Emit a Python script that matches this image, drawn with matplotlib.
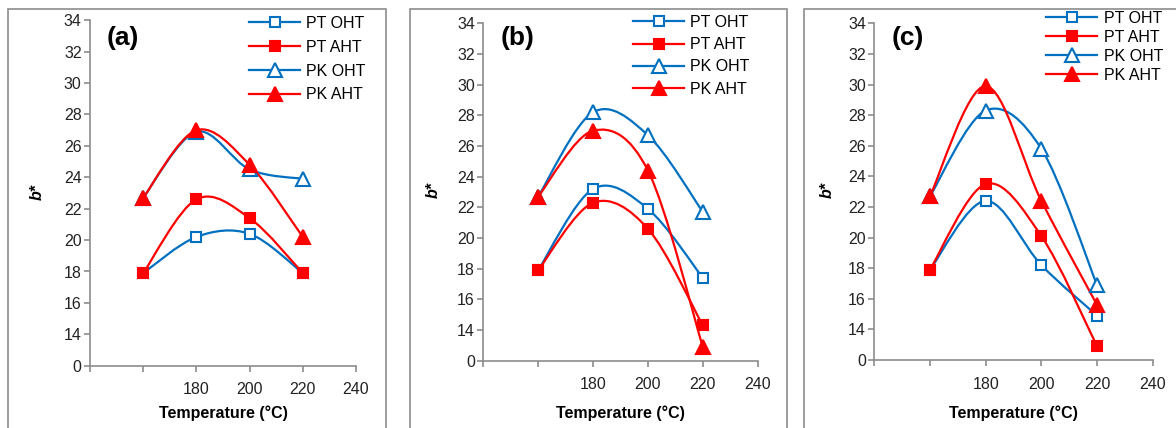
import numpy as np
import matplotlib
matplotlib.use("Agg")
import matplotlib.pyplot as plt
from matplotlib.path import Path
from matplotlib.patches import PathPatch, Rectangle
from matplotlib.lines import Line2D

plt.rcParams['font.family'] = ['Liberation Sans', 'DejaVu Sans']

# datos
temperatura = [160, 180, 200, 220]
series = ['PT OHT', 'PT AHT', 'PK OHT', 'PK AHT']

panel_a = {
    'PT OHT': [17.9, 20.2, 20.4, 17.9],
    'PT AHT': [17.9, 22.6, 21.4, 17.9],
    'PK OHT': [22.7, 26.9, 24.5, 23.9],
    'PK AHT': [22.7, 27.0, 24.8, 20.2],
}
panel_b = {
    'PT OHT': [17.9, 23.2, 21.9, 17.4],
    'PT AHT': [17.9, 22.3, 20.6, 14.3],
    'PK OHT': [22.7, 28.2, 26.7, 21.7],
    'PK AHT': [22.7, 27.0, 24.4, 12.9],
}
panel_c = {
    'PT OHT': [17.9, 22.4, 18.2, 14.9],
    'PT AHT': [17.9, 23.5, 20.1, 12.9],
    'PK OHT': [22.7, 28.3, 25.8, 16.9],
    'PK AHT': [22.7, 29.9, 22.4, 15.6],
}

y_ticks = [12, 14, 16, 18, 20, 22, 24, 26, 28, 30, 32, 34]
y_labels = ['0', '14', '16', '18', '20', '22', '24', '26', '28', '30', '32', '34']
x_ticks = [140, 160, 180, 200, 220, 240]
x_labels = ['', '', '180', '200', '220', '240']

AZUL = '#0070C0'
ROJO = '#FF0000'
estilos = {
    'PT OHT': dict(color=AZUL, marker='s', mfc='white', ms=7.5),
    'PT AHT': dict(color=ROJO, marker='s', mfc=ROJO, ms=7.5),
    'PK OHT': dict(color=AZUL, marker='^', mfc='white', ms=10),
    'PK AHT': dict(color=ROJO, marker='^', mfc=ROJO, ms=10),
}

W, H = 1176, 428
fig = plt.figure(figsize=(W / 100, H / 100), dpi=100)


def caja(izq, der, arriba, abajo):
    # pixeles -> fraccion de figura
    return [izq / W, 1 - abajo / H, (der - izq) / W, (abajo - arriba) / H]


def curva_suave(x, y):
    # linea suavizada tipo Excel (Bezier / Catmull-Rom)
    p = np.column_stack([x, y]).astype(float)
    n = len(p)
    verts = [p[0]]
    codes = [Path.MOVETO]
    for i in range(n - 1):
        p0 = p[i - 1] if i > 0 else p[i]
        p3 = p[i + 2] if i + 2 < n else p[i + 1]
        c1 = p[i] + (p[i + 1] - p0) / 6
        c2 = p[i + 1] - (p3 - p[i]) / 6
        verts += [c1, c2, p[i + 1]]
        codes += [Path.CURVE4] * 3
    return Path(verts, codes)


paneles = [
    ('(a)', panel_a, (90, 356, 20.3, 365.7), (123, 38), (37, 192), (223, 413), (249, 16, 0.55)),
    ('(b)', panel_b, (483.3, 757.7, 23.3, 360.7), (518, 38), (433, 190), (620, 413), (633, 15, 0.45)),
    ('(c)', panel_c, (874.3, 1152.7, 23.3, 360), (908, 38), (827, 190), (1013, 413), (1046, 11, 0.25)),
]

# marcos de cada panel
for x0, x1 in [(8, 386), (410, 787), (804, 1200)]:
    fig.patches.append(Rectangle((x0 / W, -0.1), (x1 - x0) / W, 1.1 - 9 / H,
                                 transform=fig.transFigure, fill=False,
                                 edgecolor='#8C8C8C', linewidth=1.2))

for letra, datos, pos, pos_letra, pos_y, pos_x, pos_leg in paneles:
    ax = fig.add_axes(caja(*pos))
    for s in series:
        est = estilos[s]
        patch = PathPatch(curva_suave(temperatura, datos[s]), fill=False,
                          edgecolor=est['color'], linewidth=1.6, zorder=2)
        ax.add_patch(patch)
        ax.plot(temperatura, datos[s], linestyle='none', marker=est['marker'],
                markersize=est['ms'], markerfacecolor=est['mfc'],
                markeredgecolor=est['color'], markeredgewidth=1.5, zorder=3,
                clip_on=False)

    ax.set_xlim(140, 240)
    ax.set_ylim(12, 34)
    ax.set_xticks(x_ticks)
    ax.set_xticklabels(x_labels)
    ax.set_yticks(y_ticks)
    ax.set_yticklabels(y_labels)
    for lado in ['top', 'right']:
        ax.spines[lado].set_visible(False)
    for lado in ['left', 'bottom']:
        ax.spines[lado].set_color('#8C8C8C')
        ax.spines[lado].set_linewidth(1.2)
    ax.tick_params(axis='both', direction='out', length=4, width=1.2,
                   color='#8C8C8C', labelsize=11.5, labelcolor='#222222')
    ax.tick_params(axis='y', pad=2)
    ax.tick_params(axis='x', pad=8)
    ax.set_facecolor('none')

    fig.text(pos_letra[0] / W, 1 - pos_letra[1] / H, letra, fontsize=19,
             fontweight='bold', ha='center', va='center')
    fig.text(pos_y[0] / W, 1 - pos_y[1] / H, 'b*', fontsize=11.5, fontweight='bold',
             fontstyle='italic', rotation=90, ha='center', va='center')
    fig.text(pos_x[0] / W, 1 - pos_x[1] / H, 'Temperature (°C)', fontsize=11.5,
             fontweight='bold', ha='center', va='center')

    handles = []
    for s in series:
        est = estilos[s]
        handles.append(Line2D([], [], color=est['color'], linewidth=1.6,
                              marker=est['marker'], markersize=est['ms'] - 0.5,
                              markerfacecolor=est['mfc'],
                              markeredgecolor=est['color'], markeredgewidth=1.5))
    fig.legend(handles, series, loc='upper left',
               bbox_to_anchor=(pos_leg[0] / W, 1 - pos_leg[1] / H),
               frameon=False, fontsize=11.5, handlelength=3.2, handletextpad=0.4,
               labelspacing=pos_leg[2], borderpad=0, borderaxespad=0)

fig.savefig('out.png', dpi=100)
